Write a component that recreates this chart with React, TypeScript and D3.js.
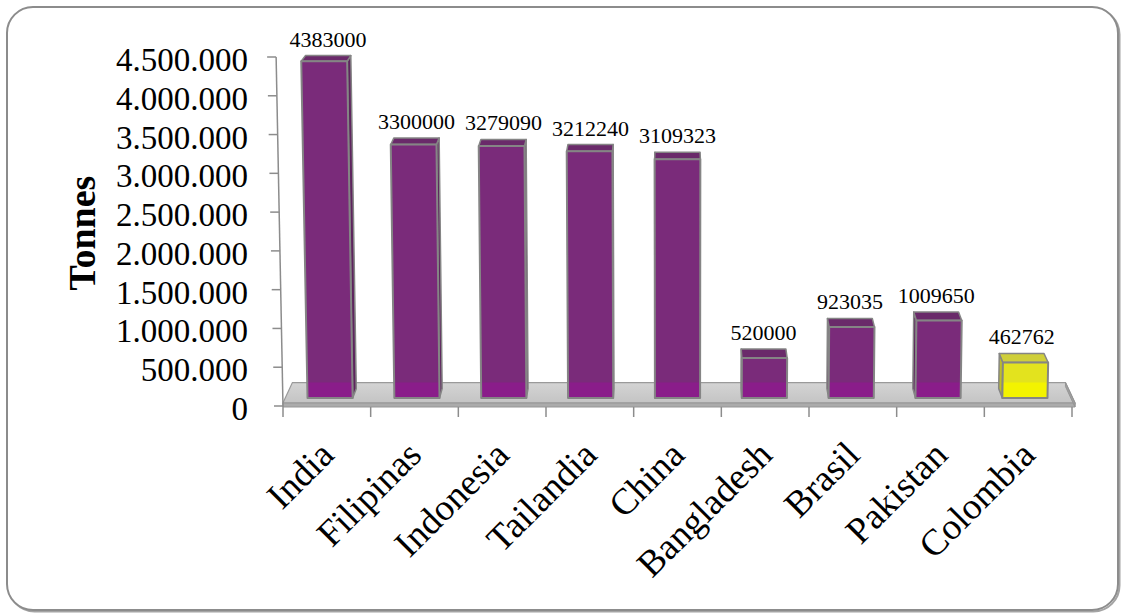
import React from "react";
import * as d3 from "d3";

const categories = ["India", "Filipinas", "Indonesia", "Tailandia", "China", "Bangladesh", "Brasil", "Pakistan", "Colombia"];
const production = [4383000, 3300000, 3279090, 3212240, 3109323, 520000, 923035, 1009650, 462762];
const yTicks = [0, 500000, 1000000, 1500000, 2000000, 2500000, 3000000, 3500000, 4000000, 4500000];
const highlighted = "Colombia";
const yTitle = "Tonnes";

const W = 1126;
const H = 613;

// perspective helpers: vanishing point for depth, slight lean of vertical edges
const VX = 677;
const VY = -450;
const LEAN = 20000;
const BASE = 406;
const D_FRONT = 0.0093;
const D_BACK = 0.0203;
const D_FLOOR = 0.024;

function proj(u: number, v: number, d: number): [number, number] {
  const x1 = u - ((VX - u) * (BASE - v)) / LEAN;
  return [x1 + d * (VX - x1), v + d * (VY - v)];
}

const poly = (pts: [number, number][]) => "M" + pts.map((p) => p[0].toFixed(2) + "," + p[1].toFixed(2)).join("L") + "Z";

const fmtTick = (v: number) => d3.format(",")(v).replace(/,/g, ".");

export default function App() {
  const x = d3.scaleBand<string>().domain(categories).range([283, 1072]).paddingInner(0.48).paddingOuter(0.24);
  const y = d3.scaleLinear().domain([0, 4500000]).range([406, 57]);
  const step = x.step();
  const bw = x.bandwidth();
  const x0 = 283;
  const x1 = 1075;

  const floorTop = 403;
  const floorBottom = 407;
  const floorBackY = proj(x0, floorTop, D_FLOOR)[1];
  // value-plane y where the front face crosses the floor's back edge
  const vFloor = (floorBackY - D_FRONT * VY) / (1 - D_FRONT);

  const serif = "'Liberation Serif', 'Times New Roman', serif";

  return (
    <svg width={W} height={H} style={{ position: "absolute", left: 0, top: 0, background: "#fff" }} fontFamily={serif}>
      <defs>
        <linearGradient id="floorGrad" x1="0" y1="0" x2="0" y2="1">
          <stop offset="0" stopColor="#d4d4d4" />
          <stop offset="1" stopColor="#c4c4c4" />
        </linearGradient>
      </defs>

      {/* chart frame */}
      <rect x={8.5} y={8.5} width={1111} height={603} rx={26} fill="none" stroke="#5a5a5a" strokeWidth={2} opacity={0.55} />
      <rect x={7} y={7} width={1111} height={603} rx={26} fill="#fff" stroke="#8c8c8c" strokeWidth={2} />

      {/* floor */}
      <path
        d={poly([proj(x0, floorTop, 0), proj(x1, floorTop, 0), proj(x1, floorTop, D_FLOOR), proj(x0, floorTop, D_FLOOR)])}
        fill="url(#floorGrad)"
        stroke="#9a9a9a"
        strokeWidth={1.2}
      />
      <path
        d={poly([proj(x0, floorTop, 0), proj(x1, floorTop, 0), proj(x1, floorBottom, 0), proj(x0, floorBottom, 0)])}
        fill="#ababab"
        stroke="#959595"
        strokeWidth={1}
      />
      <path
        d={poly([proj(x1, floorTop, 0), proj(x1, floorTop, D_FLOOR), proj(x1, floorBottom, D_FLOOR), proj(x1, floorBottom, 0)])}
        fill="#a0a0a0"
        stroke="#959595"
        strokeWidth={1}
      />

      {/* value axis */}
      <line
        x1={proj(x0, y(4500000), 0)[0]}
        y1={y(4500000)}
        x2={proj(x0, BASE, 0)[0]}
        y2={BASE + 1}
        stroke="#8c8c8c"
        strokeWidth={1.5}
      />
      {yTicks.map((t) => {
        const [ax, ay] = proj(x0, y(t), 0);
        return (
          <g key={t}>
            <line x1={ax - 9} y1={ay} x2={ax} y2={ay} stroke="#8c8c8c" strokeWidth={1.5} />
            <text x={248} y={ay + 14} textAnchor="end" fontSize={33} fill="#000">
              {fmtTick(t)}
            </text>
          </g>
        );
      })}
      <text transform="translate(95,233) rotate(-90)" textAnchor="middle" fontSize={38} fontWeight="bold" fill="#000">
        {yTitle}
      </text>

      {/* category axis ticks */}
      {d3.range(categories.length + 1).map((i) => (
        <line key={i} x1={x0 + i * step} y1={407} x2={x0 + i * step} y2={417} stroke="#8c8c8c" strokeWidth={1.5} />
      ))}
      {categories.map((c) => {
        const cx = (x(c) as number) + bw / 2;
        return (
          <text key={c} transform={`translate(${cx + 9},457) rotate(-45)`} textAnchor="end" fontSize={37} fill="#000">
            {c}
          </text>
        );
      })}

      {/* bars */}
      {categories.map((c, i) => {
        const v = production[i];
        const bx0 = x(c) as number;
        const bx1 = bx0 + bw;
        const yt = y(v);
        const yb = y(0);
        const hi = c === highlighted;
        const front = hi ? "#e3e31e" : "#7a2b7a";
        const lower = hi ? "#f3f300" : "#8a1d8a";
        const top = hi ? "#cfcf3a" : "#6a2a6a";
        const side = hi ? "#bcbc2a" : "#5e245e";
        const edge = "#858585";
        const center = (bx0 + bx1) / 2;
        const rightVisible = proj(center, yt, 0)[0] < VX;
        const sx = rightVisible ? bx1 : bx0;
        const lowTop = Math.max(yt, vFloor);
        const topBack = proj(center, yt, D_BACK);
        return (
          <g key={c}>
            <path
              d={poly([proj(sx, yt, D_FRONT), proj(sx, yt, D_BACK), proj(sx, yb, D_BACK), proj(sx, yb, D_FRONT)])}
              fill={side}
              stroke={edge}
              strokeWidth={1.5}
              strokeLinejoin="round"
            />
            <path
              d={poly([proj(bx0, yt, D_FRONT), proj(bx1, yt, D_FRONT), proj(bx1, yt, D_BACK), proj(bx0, yt, D_BACK)])}
              fill={top}
              stroke={edge}
              strokeWidth={1.5}
              strokeLinejoin="round"
            />
            <path
              d={poly([proj(bx0, yt, D_FRONT), proj(bx1, yt, D_FRONT), proj(bx1, yb, D_FRONT), proj(bx0, yb, D_FRONT)])}
              fill={front}
            />
            {lowTop < yb && (
              <path
                d={poly([proj(bx0, lowTop, D_FRONT), proj(bx1, lowTop, D_FRONT), proj(bx1, yb, D_FRONT), proj(bx0, yb, D_FRONT)])}
                fill={lower}
              />
            )}
            <path
              d={poly([proj(bx0, yt, D_FRONT), proj(bx1, yt, D_FRONT), proj(bx1, yb, D_FRONT), proj(bx0, yb, D_FRONT)])}
              fill="none"
              stroke={edge}
              strokeWidth={2}
              strokeLinejoin="round"
            />
            <text x={topBack[0]} y={topBack[1] - 9} textAnchor="middle" fontSize={22} fill="#000">
              {String(v)}
            </text>
          </g>
        );
      })}
    </svg>
  );
}
